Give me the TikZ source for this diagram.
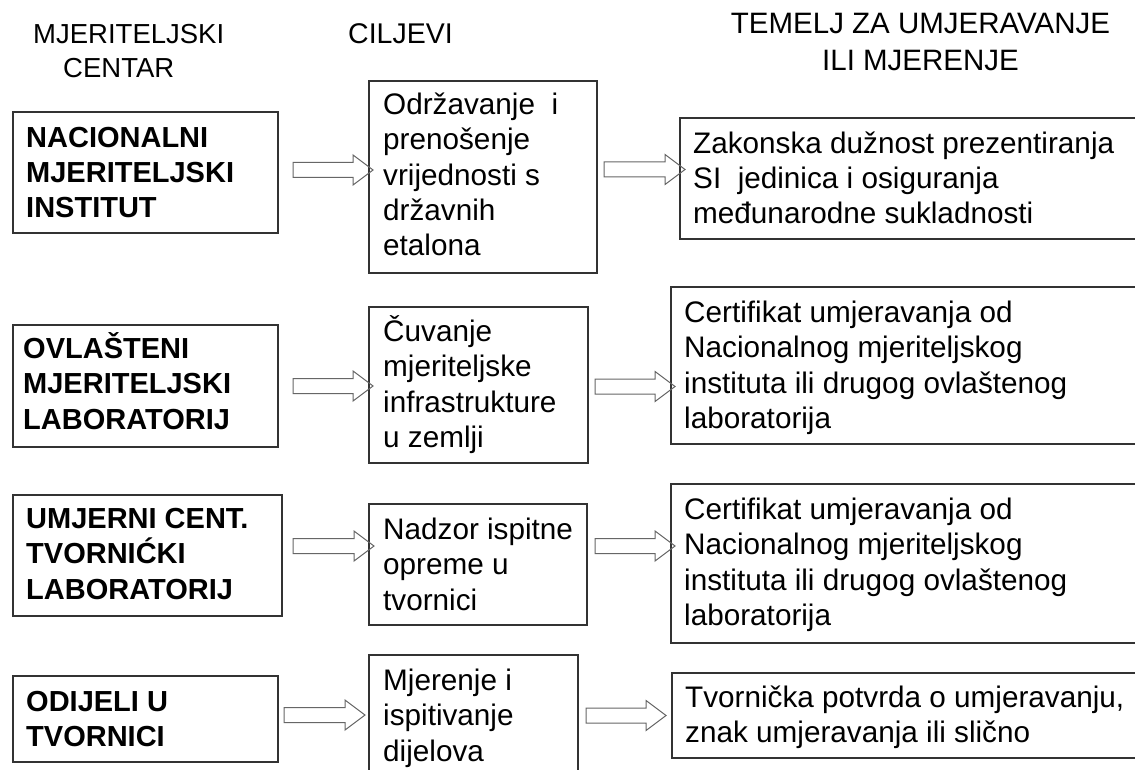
\documentclass[tikz,border=0pt]{standalone}
\usepackage{fontspec}
\setmainfont{Liberation Sans}
\usetikzlibrary{calc}
\definecolor{boxgray}{gray}{0.2}
\definecolor{arrowgray}{gray}{0.4}
\newcommand\tstrut{\rule{0pt}{30pt}}
\tikzset{
  box/.style={draw=boxgray, line width=1.6pt, anchor=north west, inner sep=0pt},
  txt/.style={anchor=north west, inner sep=0pt, align=left, text=black, font=\fontsize{29.7}{35.4}\selectfont},
  btxt/.style={anchor=north west, inner sep=0pt, align=left, text=black, font=\bfseries\fontsize{29}{35.4}\selectfont},
  hollow/.style={draw=arrowgray, line width=1pt, line join=miter,
    to path={($(\tikztostart)+(0,7.5)$) -- ($(\tikztotarget)+(-20,7.5)$) -- ($(\tikztotarget)+(-20,15)$) -- (\tikztotarget) -- ($(\tikztotarget)+(-20,-15)$) -- ($(\tikztotarget)+(-20,-7.5)$) -- ($(\tikztostart)+(0,-7.5)$) -- cycle}},
}
\begin{document}
\begin{tikzpicture}[x=1pt,y=-1pt]
\clip (0,0) rectangle (1135,770);
\fill[white] (0,0) rectangle (1135,770);

% headers
\node[anchor=north west, inner sep=0pt, align=left, font=\fontsize{27.5}{34}\selectfont] (h1) at (33,13) {\tstrut MJERITELJSKI\\\hspace*{30pt}CENTAR};
\node[anchor=north west, inner sep=0pt, font=\fontsize{28.5}{34}\selectfont] (h2) at (348,13) {\tstrut CILJEVI};
\node[anchor=north, inner sep=0pt, align=center, font=\fontsize{29.5}{37}\selectfont] (h3) at (920.5,3) {\tstrut TEMELJ ZA UMJERAVANJE\\ILI MJERENJE};

% boxes
\node[box, minimum width=265pt, minimum height=121pt] (l1) at (12,111) {};
\node[box, minimum width=265pt, minimum height=122pt] (l2) at (12,324) {};
\node[box, minimum width=269pt, minimum height=121pt] (l3) at (12,494) {};
\node[box, minimum width=265pt, minimum height=86pt] (l4) at (12,675) {};

\node[box, minimum width=228pt, minimum height=192pt] (m1) at (368,80) {};
\node[box, minimum width=219pt, minimum height=156pt] (m2) at (368,306) {};
\node[box, minimum width=218pt, minimum height=121pt] (m3) at (368,503) {};
\node[box, minimum width=209pt, minimum height=140pt] (m4) at (368,654) {};

\node[box, minimum width=470pt, minimum height=121pt] (r1) at (679,117) {};
\node[box, minimum width=480pt, minimum height=157pt] (r2) at (670,286) {};
\node[box, minimum width=480pt, minimum height=159pt] (r3) at (670,483) {};
\node[box, minimum width=480pt, minimum height=85pt] (r4) at (671,672) {};

% texts
\node[btxt] (l1t) at (26,117) {\tstrut NACIONALNI\\MJERITELJSKI\\INSTITUT};
\node[btxt] (l2t) at (23,328) {\tstrut OVLAŠTENI\\MJERITELJSKI\\LABORATORIJ};
\node[btxt] (l3t) at (26,498) {\tstrut UMJERNI CENT.\\TVORNIĆKI\\LABORATORIJ};
\node[btxt] (l4t) at (26,681) {\tstrut ODIJELI U\\TVORNICI};

\node[txt] (m1t) at (383,84) {\tstrut Održavanje \ i\\prenošenje\\vrijednosti s\\državnih\\etalona};
\node[txt] (m2t) at (383,311) {\tstrut Čuvanje\\mjeriteljske\\infrastrukture\\u zemlji};
\node[txt] (m3t) at (383,509) {\tstrut Nadzor ispitne\\opreme u\\tvornici};
\node[txt] (m4t) at (383,660) {\tstrut Mjerenje i\\ispitivanje\\dijelova};

\node[txt] (r1t) at (693,123) {\tstrut Zakonska dužnost prezentiranja\\SI \ jedinica i osiguranja\\međunarodne sukladnosti};
\node[txt] (r2t) at (684,292) {\tstrut Certifikat umjeravanja od\\Nacionalnog mjeriteljskog\\instituta ili drugog ovlaštenog\\laboratorija};
\node[txt] (r3t) at (684,489) {\tstrut Certifikat umjeravanja od\\Nacionalnog mjeriteljskog\\instituta ili drugog ovlaštenog\\laboratorija};
\node[txt] (r4t) at (685,677) {\tstrut Tvornička potvrda o umjeravanju,\\znak umjeravanja ili slično};

% arrows
\coordinate (a1s) at (293,170); \coordinate (a1e) at (373,170);
\coordinate (b1s) at (604,169.5); \coordinate (b1e) at (685,169.5);
\coordinate (a2s) at (293,386); \coordinate (a2e) at (373,386);
\coordinate (b2s) at (595,386.5); \coordinate (b2e) at (675,386.5);
\coordinate (a3s) at (293,546); \coordinate (a3e) at (374,546);
\coordinate (b3s) at (595,546); \coordinate (b3e) at (675,546);
\coordinate (a4s) at (284,715); \coordinate (a4e) at (365,715);
\coordinate (b4s) at (586,715.5); \coordinate (b4e) at (666,715.5);
\draw[hollow] (a1s) to (a1e);
\draw[hollow] (b1s) to (b1e);
\draw[hollow] (a2s) to (a2e);
\draw[hollow] (b2s) to (b2e);
\draw[hollow] (a3s) to (a3e);
\draw[hollow] (b3s) to (b3e);
\draw[hollow] (a4s) to (a4e);
\draw[hollow] (b4s) to (b4e);
\end{tikzpicture}
\end{document}
